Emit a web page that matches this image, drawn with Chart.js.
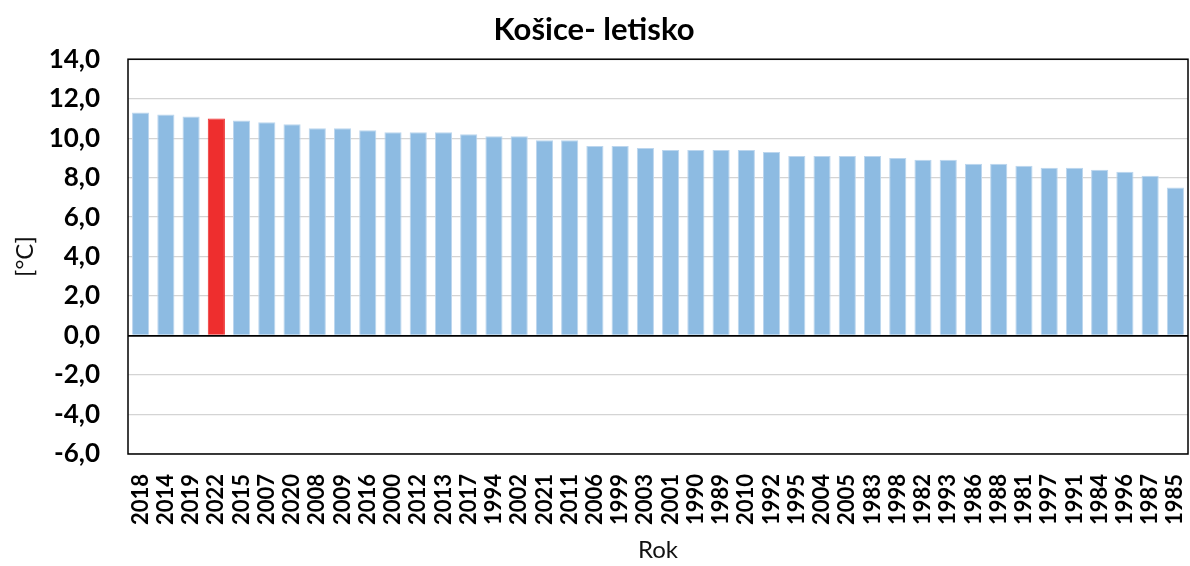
<!DOCTYPE html>
<html>
<head>
<meta charset="utf-8">
<script src="https://cdn.jsdelivr.net/npm/chart.js@4"></script>
<style>
  html, body { margin: 0; padding: 0; background: #fff; }
  #wrap { width: 1190px; height: 566px; }
</style>
</head>
<body>
<div id="wrap"><canvas id="kosiceChart" width="1190" height="566"></canvas></div>
<script>
const years = ['2018', '2014', '2019', '2022', '2015', '2007', '2020', '2008', '2009', '2016', '2000', '2012', '2013', '2017', '1994', '2002', '2021', '2011', '2006', '1999', '2003', '2001', '1990', '1989', '2010', '1992', '1995', '2004', '2005', '1983', '1998', '1982', '1993', '1986', '1988', '1981', '1997', '1991', '1984', '1996', '1987', '1985'];
const temps = [11.3, 11.2, 11.1, 11.0, 10.9, 10.8, 10.7, 10.5, 10.5, 10.4, 10.3, 10.3, 10.3, 10.2, 10.1, 10.1, 9.9, 9.9, 9.6, 9.6, 9.5, 9.4, 9.4, 9.4, 9.4, 9.3, 9.1, 9.1, 9.1, 9.1, 9.0, 8.9, 8.9, 8.7, 8.7, 8.6, 8.5, 8.5, 8.4, 8.3, 8.1, 7.5];
const highlightYear = '2022';
const yMin = -6, yMax = 14, yStep = 2;

const FONT = 'Lato, "Open Sans", sans-serif';

// black frame round the plot area
const frame = {
    id: 'frame',
    afterDraw(chart) {
        const { ctx, chartArea: a } = chart;
        ctx.save();
        ctx.strokeStyle = '#000';
        ctx.lineWidth = 1.5;
        ctx.strokeRect(a.left, a.top, a.right - a.left, a.bottom - a.top);
        ctx.restore();
    }
};

const ctx = document.getElementById('kosiceChart').getContext('2d');
new Chart(ctx, {
    type: 'bar',
    data: {
        labels: years,
        datasets: [{
            data: temps,
            backgroundColor: years.map(y => y === highlightYear ? '#ee2e2e' : '#8dbbe2'),
            borderColor: years.map(y => y === highlightYear ? '#ee2e2e' : '#bcd6ee'),
            borderWidth: 1,
            categoryPercentage: 1,
            barPercentage: 0.68
        }]
    },
    options: {
        responsive: false,
        animation: false,
        layout: { padding: { left: 0, right: 2, top: 0, bottom: 0 } },
        plugins: {
            legend: { display: false },
            tooltip: { enabled: false },
            title: {
                display: true,
                text: 'Košice- letisko',
                color: '#000',
                font: { family: FONT, size: 31, weight: 'bold' },
                padding: { top: 11, bottom: 11 }
            }
        },
        scales: {
            x: {
                grid: { display: false, drawTicks: false },
                border: { display: false },
                ticks: {
                    color: '#000',
                    font: { family: FONT, size: 22, weight: 'bold' },
                    minRotation: 90,
                    maxRotation: 90,
                    autoSkip: false,
                    padding: 20
                },
                title: {
                    display: true,
                    text: 'Rok',
                    color: '#111',
                    font: { family: FONT, size: 24 },
                    padding: { top: 4, bottom: 1 }
                },
                afterFit: scale => {
                    scale.height = 112;
                    scale.paddingLeft = 0;
                    scale.paddingRight = 0;
                }
            },
            y: {
                min: yMin,
                max: yMax,
                grid: {
                    drawTicks: false,
                    color: c => c.tick.value === 0 ? '#000' : '#d4d4d4',
                    lineWidth: c => c.tick.value === 0 ? 1.8 : 1.3
                },
                border: { display: false },
                ticks: {
                    stepSize: yStep,
                    color: '#000',
                    font: { family: FONT, size: 26, weight: 'bold' },
                    padding: 28,
                    callback: v => v.toFixed(1).replace('.', ',')
                },
                title: {
                    display: true,
                    text: '[°C]',
                    color: '#111',
                    font: { family: FONT, size: 24 },
                    padding: { top: 11, bottom: 0 }
                },
                afterFit: scale => { scale.width = 128; }
            }
        }
    },
    plugins: [frame]
});
</script>
</body>
</html>
